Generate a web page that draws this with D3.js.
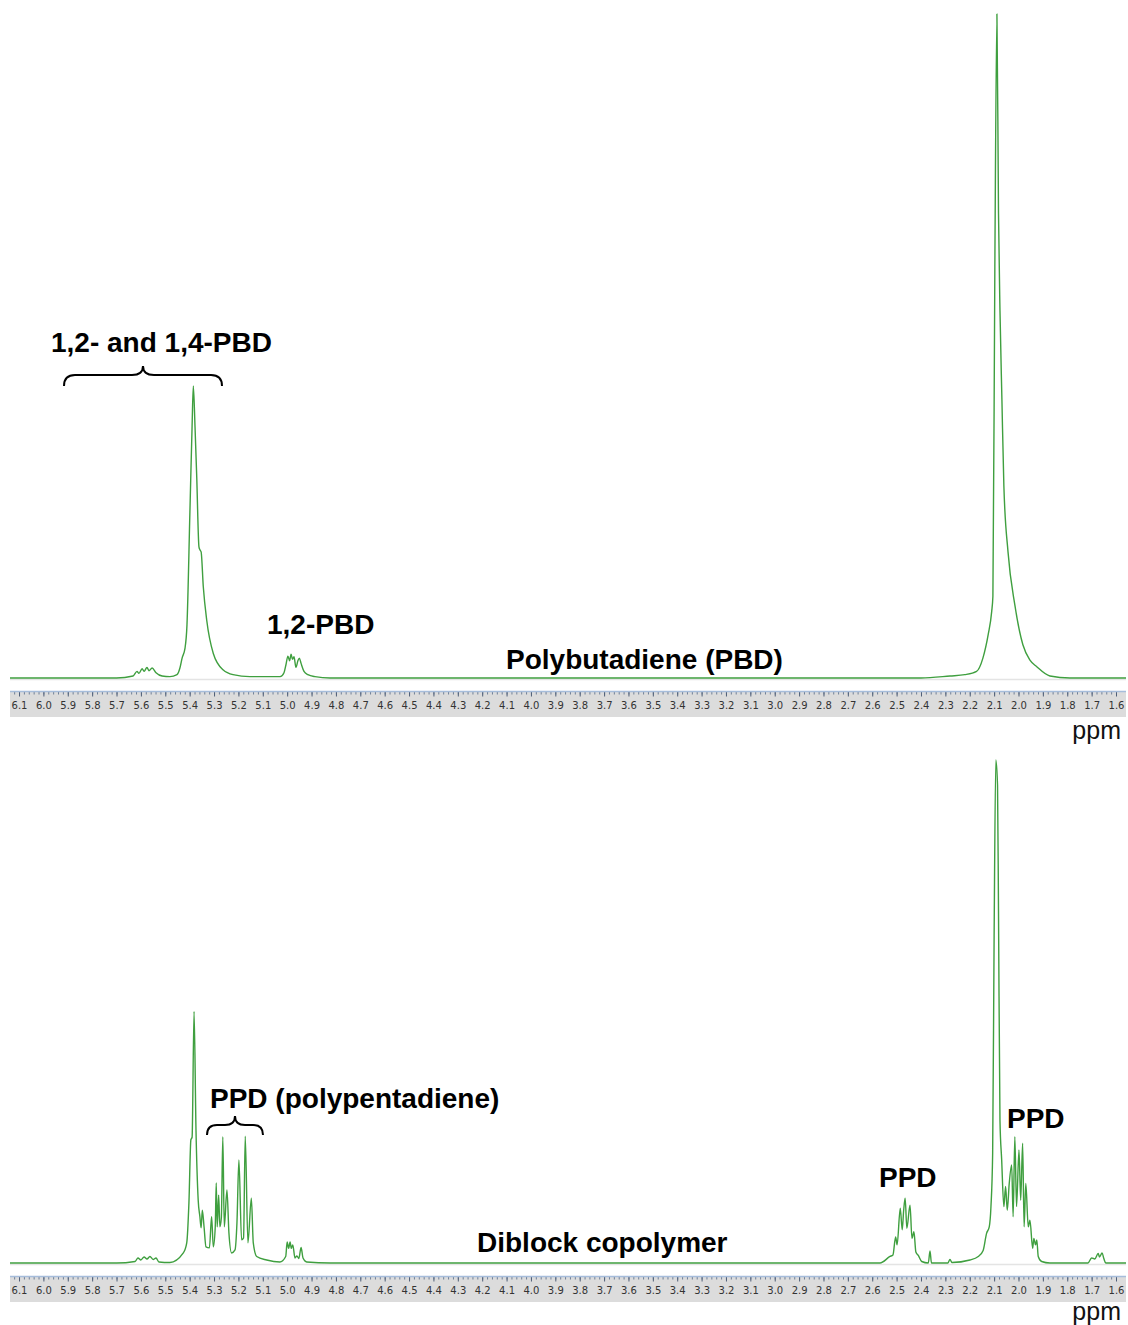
<!DOCTYPE html>
<html>
<head>
<meta charset="utf-8">
<title>1H NMR PBD vs diblock</title>
<style>
*{ margin:0; padding:0; }
html,body{ width:1128px; height:1325px; background:#fff; }
svg{ display:block; }
</style>
</head>
<body>
<script src="https://cdn.jsdelivr.net/npm/d3@7"></script>
<script>
// spectra as [ppm, relative intensity]
var pbdSpectrum = [
  [6.137,0],[5.70,0],[5.632,0.3],[5.616,1.0],[5.608,0.7],[5.595,1.4],[5.587,1.0],[5.575,1.6],
  [5.567,1.1],[5.554,1.5],[5.538,0.8],[5.513,0.3],[5.481,0.2],[5.452,0.5],[5.440,1.5],[5.431,3.0],
  [5.419,4.5],[5.411,8],[5.399,25],[5.390,38],[5.385,44],[5.378,37.8],[5.371,30.3],[5.362,19.8],
  [5.358,19.3],[5.353,19.0],[5.344,13.7],[5.330,8.7],[5.303,3.7],[5.262,1.2],[5.222,0.5],[5.153,0.2],
  [5.029,0.2],[5.013,0.8],[5.005,2.0],[4.997,3.3],[4.990,2.6],[4.984,3.6],[4.978,2.8],[4.972,3.2],
  [4.964,1.6],[4.956,2.6],[4.950,3.0],[4.943,2.2],[4.931,1.0],[4.915,0.5],[4.886,0.2],[4.824,0],
  [2.40,0],[2.281,0.3],[2.220,0.5],[2.172,1.0],[2.146,3.0],[2.124,6.6],[2.110,10],[2.105,12.3],
  [2.097,62],[2.0885,100],[2.082,70],[2.076,55.4],[2.068,41.9],[2.060,28.9],[2.043,19],[2.015,11],
  [1.982,5],[1.953,2.7],[1.925,1.7],[1.871,0.3],[1.789,0],[1.559,0]
];

var diblockSpectrum = [
  [6.137,0],[5.70,0],[5.624,0.3],[5.612,1.0],[5.600,0.6],[5.587,1.2],[5.575,0.8],[5.563,1.3],
  [5.550,0.7],[5.538,1.0],[5.526,0.2],[5.481,0.1],[5.426,2],[5.412,4],[5.403,12],[5.395,24.5],
  [5.390,25],[5.382,50],[5.374,26.4],[5.365,12.5],[5.358,9.2],[5.353,7],[5.348,10.5],[5.341,7.2],
  [5.333,3.2],[5.319,3],[5.310,9.2],[5.303,3.2],[5.295,7.2],[5.291,15.9],[5.287,7.2],[5.281,13.5],
  [5.276,7.2],[5.270,9],[5.264,25.1],[5.258,7.2],[5.247,14.5],[5.239,6],[5.228,2],[5.214,2.6],
  [5.206,8],[5.198,20.5],[5.187,4.6],[5.179,5],[5.172,25.2],[5.161,4],[5.147,12.9],[5.139,4],
  [5.125,1.3],[5.084,0.6],[5.030,0.2],[5.006,1.3],[5.000,4.2],[4.994,2.9],[4.988,4.2],[4.983,2.9],
  [4.977,3.6],[4.968,1.0],[4.960,1.4],[4.952,0.9],[4.943,3.1],[4.935,1.0],[4.920,0.2],[4.824,0],
  [2.568,0],[2.527,1.3],[2.515,1.6],[2.504,5.2],[2.498,3.6],[2.485,10.9],[2.477,6.6],[2.471,10.5],
  [2.465,12.9],[2.458,6.9],[2.445,11.5],[2.437,4.9],[2.429,6.2],[2.421,2.2],[2.411,1.5],[2.397,0.3],
  [2.370,0],[2.363,2.4],[2.357,0],[2.290,0],[2.281,0.7],[2.273,0.1],[2.199,0.6],[2.165,1.3],
  [2.145,2.5],[2.131,5.9],[2.120,7.2],[2.113,11.2],[2.106,21.8],[2.100,65],[2.093,100],[2.086,95],
  [2.082,70],[2.076,28.4],[2.069,20.5],[2.060,11.2],[2.053,15.2],[2.046,10.5],[2.038,15.8],[2.028,19.5],
  [2.022,9.2],[2.015,25.1],[2.008,11.2],[1.998,22.5],[1.991,12.5],[1.983,23.8],[1.977,7.2],[1.970,15.8],
  [1.960,7.2],[1.953,8.5],[1.942,2.9],[1.937,4.9],[1.930,3.6],[1.925,4.6],[1.919,1.3],[1.905,0.3],
  [1.871,0],[1.715,0],[1.700,1.0],[1.687,0.8],[1.673,1.9],[1.668,1.2],[1.657,2.0],[1.650,0.9],
  [1.642,0],[1.559,0]
];

var tickLabels = ["6.1","6.0","5.9","5.8","5.7","5.6","5.5","5.4","5.3","5.2","5.1","5.0","4.9","4.8","4.7","4.6",
  "4.5","4.4","4.3","4.2","4.1","4.0","3.9","3.8","3.7","3.6","3.5","3.4","3.3","3.2","3.1","3.0","2.9","2.8",
  "2.7","2.6","2.5","2.4","2.3","2.2","2.1","2.0","1.9","1.8","1.7","1.6"];

var topLabels = ["1,2- and 1,4-PBD", "1,2-PBD", "Polybutadiene (PBD)"];
var bottomLabels = ["PPD (polypentadiene)", "PPD", "PPD", "Diblock copolymer"];
var unitLabel = "ppm";

var width = 1128, height = 1325;
var green = "#3f9f3f";

var svg = d3.select("body").append("svg")
  .attr("width", width).attr("height", height);

var x = d3.scaleLinear().domain([6.137, 1.559]).range([10, 1126]);

var panels = [
  { data: pbdSpectrum, base: 678, top: 14, ruler: 691, rulerH: 26, unitY: 739 },
  { data: diblockSpectrum, base: 1263, top: 760, ruler: 1276, rulerH: 26, unitY: 1320 }
];

var majorTicks = tickLabels.map(Number);
var minorTicks = d3.range(0, 226).map(function(i){ return +(6.12 - i*0.02).toFixed(2); })
  .filter(function(v){ return v >= 1.56 && v <= 6.13; });

panels.forEach(function(p){
  var y = d3.scaleLinear().domain([0, 100]).range([p.base, p.top]);

  // faint baseline under the trace
  svg.append("line")
    .attr("x1", 10).attr("x2", 1126)
    .attr("y1", p.base + 1.5).attr("y2", p.base + 1.5)
    .attr("stroke", "#e4e4e4").attr("stroke-width", 1.5);

  var line = d3.line()
    .x(function(d){ return x(d[0]); })
    .y(function(d){ return y(d[1]); })
    .curve(d3.curveMonotoneX);

  svg.append("path")
    .datum(p.data)
    .attr("fill", "none")
    .attr("stroke", green)
    .attr("stroke-width", 1.4)
    .attr("stroke-linejoin", "round")
    .attr("d", line);

  // ruler
  var g = svg.append("g").attr("class", "ruler");
  g.append("rect")
    .attr("x", 10).attr("y", p.ruler)
    .attr("width", 1116).attr("height", p.rulerH)
    .attr("fill", "#dcdcdc");

  g.append("g")
    .attr("transform", "translate(0," + (p.ruler + 1) + ")")
    .call(d3.axisBottom(x).tickValues(minorTicks).tickSize(2.5).tickFormat(""))
    .call(function(s){
      s.select(".domain").remove();
      s.selectAll("line").attr("stroke", "#6f7f96");
    });

  g.append("g")
    .attr("transform", "translate(0," + (p.ruler + 1) + ")")
    .call(d3.axisBottom(x).tickValues(majorTicks).tickSize(4.5).tickPadding(5)
      .tickFormat(function(d, i){ return tickLabels[i]; }))
    .call(function(s){
      s.select(".domain").remove();
      s.selectAll("line").attr("stroke", "#4f5f78");
      s.selectAll("text")
        .attr("fill", "#333")
        .style("font-family", "'DejaVu Sans', Verdana, sans-serif")
        .style("font-size", "10px");
    });

  g.append("line")
    .attr("x1", 10).attr("x2", 1126)
    .attr("y1", p.ruler + 0.5).attr("y2", p.ruler + 0.5)
    .attr("stroke", "#a6bddb").attr("stroke-width", 1.5);

  svg.append("text")
    .attr("x", 1121).attr("y", p.unitY)
    .attr("text-anchor", "end")
    .style("font-family", "'Liberation Sans', Arial, sans-serif")
    .style("font-size", "25px")
    .attr("fill", "#111")
    .text(unitLabel);
});

function label(txt, px, py){
  svg.append("text")
    .attr("x", px).attr("y", py)
    .style("font-family", "'Liberation Sans', Arial, sans-serif")
    .style("font-weight", "bold")
    .style("font-size", "28px")
    .attr("fill", "#000")
    .text(txt);
}

function brace(x0, x1, yTip, yBar, yEnd){
  var xm = (x0 + x1) / 2, r = yEnd - yBar;
  var d = "M" + x0 + "," + yEnd +
    " Q" + x0 + "," + yBar + " " + (x0 + r) + "," + yBar +
    " L" + (xm - r) + "," + yBar +
    " Q" + xm + "," + yBar + " " + xm + "," + yTip +
    " Q" + xm + "," + yBar + " " + (xm + r) + "," + yBar +
    " L" + (x1 - r) + "," + yBar +
    " Q" + x1 + "," + yBar + " " + x1 + "," + yEnd;
  svg.append("path").attr("d", d)
    .attr("fill", "none").attr("stroke", "#000").attr("stroke-width", 2);
}

// top panel annotations
label(topLabels[0], 51, 352);
brace(64, 222, 366, 375, 386);
label(topLabels[1], 267, 634);
label(topLabels[2], 506, 669);

// bottom panel annotations
label(bottomLabels[0], 210, 1108);
brace(207, 263, 1116, 1125, 1135);
label(bottomLabels[1], 879, 1187);
label(bottomLabels[2], 1007, 1128);
label(bottomLabels[3], 477, 1252);
</script>
</body>
</html>
